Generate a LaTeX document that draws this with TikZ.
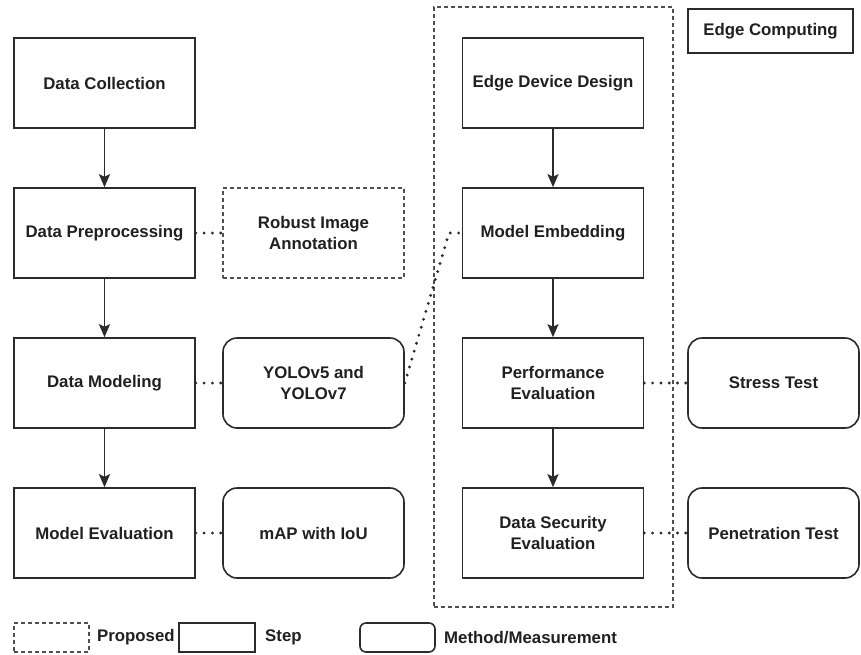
\documentclass[tikz,border=0pt]{standalone}
\usepackage{fontspec}
\setmainfont{Liberation Sans}
\usetikzlibrary{arrows.meta}
\definecolor{linec}{HTML}{2B2B2B}
\definecolor{dashc}{HTML}{505050}
\definecolor{textc}{HTML}{202020}
\begin{document}
\begin{tikzpicture}[x=1pt,y=-1pt,
  every node/.style={font=\fontsize{16.8}{21.5}\selectfont\bfseries, text=textc, align=center, inner sep=2pt},
  stepbox/.style={draw=linec, line width=1.6pt, minimum width=181pt, minimum height=90pt},
  proposedbox/.style={stepbox, draw=dashc, dash pattern=on 4pt off 3pt},
  methodbox/.style={stepbox, rounded corners=14pt},
  flow/.style={draw=linec, line width=1.8pt, -{Stealth[length=13pt,width=11pt,inset=2.5pt]}},
  dotlink/.style={draw=linec, line width=3.2pt, line cap=round, dash pattern=on 0pt off 8.3pt},
  legendtext/.style={anchor=west, inner sep=0pt},
]
\useasboundingbox (0,0) rectangle (861,654);

% edge computing zone
\node[draw=dashc, line width=1.6pt, dash pattern=on 4pt off 3pt,
      minimum width=239pt, minimum height=600pt] (edgezone) at (553.5,307) {};
\node[stepbox, minimum width=165pt, minimum height=44pt] (edgetitle) at (770.5,31) {Edge Computing};

% left pipeline
\node[stepbox] (collect) at (104.5,83)  {Data Collection};
\node[stepbox] (prep)    at (104.5,233) {Data Preprocessing};
\node[stepbox] (model)   at (104.5,383) {Data Modeling};
\node[stepbox] (meval)   at (104.5,533) {Model Evaluation};

% supporting items for the left pipeline
\node[proposedbox] (robust) at (313.5,233) {Robust Image\\Annotation};
\node[methodbox]   (yolo)   at (313.5,383) {YOLOv5 and\\YOLOv7};
\node[methodbox]   (map)    at (313.5,533) {mAP with IoU};

% edge pipeline
\node[stepbox] (design)  at (553,83)  {Edge Device Design};
\node[stepbox] (embed)   at (553,233) {Model Embedding};
\node[stepbox] (perf)    at (553,383) {Performance\\Evaluation};
\node[stepbox] (secure)  at (553,533) {Data Security\\Evaluation};

% tests
\node[methodbox, minimum width=171pt] (stress) at (773.5,383) {Stress Test};
\node[methodbox, minimum width=171pt] (pentest) at (773.5,533) {Penetration Test};

% flow arrows
\draw[flow] (collect) -- (prep);
\draw[flow] (prep) -- (model);
\draw[flow] (model) -- (meval);
\draw[flow] (design) -- (embed);
\draw[flow] (embed) -- (perf);
\draw[flow] (perf) -- (secure);

% dotted associations
\coordinate (embedstub) at (449,233);
\draw[dotlink] (prep.east) -- (robust.west);
\draw[dotlink] (model.east) -- (yolo.west);
\draw[dotlink] (meval.east) -- (map.west);
\draw[dotlink] (yolo.east) -- (embedstub) -- (embed.west);
\draw[dotlink] (perf.east) -- (stress.west);
\draw[dotlink] (secure.east) -- (pentest.west);

% legend
\node[draw=dashc, line width=1.6pt, dash pattern=on 4pt off 3pt,
      minimum width=75pt, minimum height=29pt] (lgprop) at (51.5,637.5) {};
\node[legendtext] (lgproptext) at (97,637.5) {Proposed};
\node[draw=linec, line width=1.6pt, minimum width=76pt, minimum height=29pt] (lgstep) at (217,637.5) {};
\node[legendtext] (lgsteptext) at (265,637.5) {Step};
\node[draw=linec, line width=1.6pt, rounded corners=6pt,
      minimum width=75pt, minimum height=29pt] (lgmeth) at (397.5,637.5) {};
\node[legendtext] (lgmethtext) at (444,637.5) {Method/Measurement};
\end{tikzpicture}
\end{document}
